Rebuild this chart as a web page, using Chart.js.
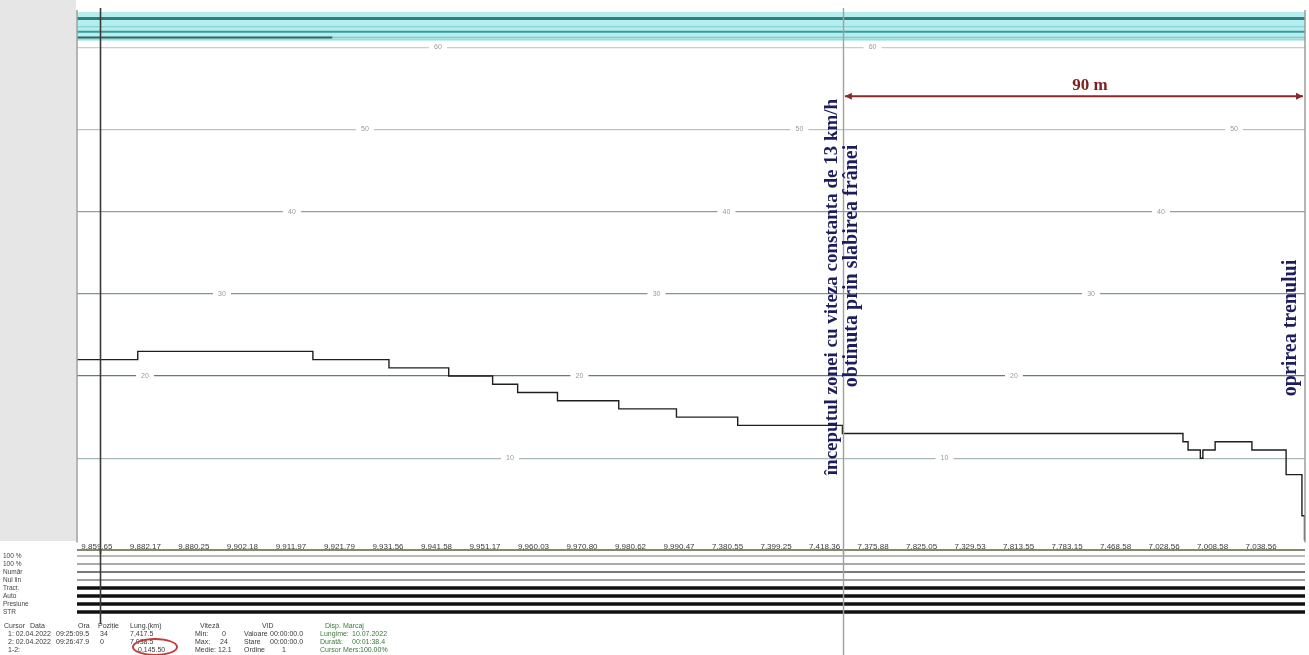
<!DOCTYPE html>
<html lang="ro">
<head>
<meta charset="UTF-8">
<title>Inregistrare viteza</title>
<style>
  body { margin: 0; width: 1309px; height: 655px; overflow: hidden; position: relative; background: #fff;
         font-family: "Liberation Sans", Arial, sans-serif; }
  .greyPanel { position: absolute; left: 0; top: 0; width: 76px; height: 541px; background: #e6e6e6; }
  .mainBox { position: absolute; left: 0; top: 0; width: 1309px; height: 554px; }
  .chanBox { position: absolute; left: 0; top: 549px; width: 1309px; height: 106px; }
  .info span { position: absolute; font-size: 7px; color: #3a3a3a; white-space: nowrap; }
  .circle { position: absolute; left: 132px; top: 638px; width: 42px; height: 14px;
            border: 2px solid #c23a3a; border-radius: 50%; }
</style>
</head>
<body>
<div class="greyPanel"></div>
<div class="mainBox"><canvas id="speedChart"></canvas></div>
<div class="chanBox"><canvas id="chanChart"></canvas></div>
<div class="info" id="info"></div>
<div class="circle"></div>

<script src="https://cdn.jsdelivr.net/npm/chart.js"></script>
<script>
// speed trace: distance (m) where the recorded speed changes and the new speed (km/h)
const stepDist  = [0, 11.9, 46.2, 61.1, 72.8, 81.4, 86.3, 94.1, 106.1, 117.4, 129.4, 149.9,
                   216.6, 217.6, 220.0, 220.5, 222.9, 230.1, 236.8, 239.9, 240.4, 240.5];
const stepSpeed = [22, 23, 22, 21, 20, 19, 18, 17, 16, 15, 14, 13,
                   12, 11, 10, 11, 12, 11, 8, 3, 0, 0];

// x axis tick labels (recorder position readout)
const xLabels = ["9,859.65", "9,882.17", "9,880.25", "9,902.18", "9,911.97", "9,921.79", "9,931.56",
                 "9,941.58", "9,951.17", "9,960.03", "9,970.80", "9,980.62", "9,990.47", "7,380.55",
                 "7,399.25", "7,418.36", "7,375.88", "7,825.05", "7,329.53", "7,813.55", "7,783.15",
                 "7,468.58", "7,028.56", "7,008.58", "7,038.56"];
const tickDist = xLabels.map((_, i) => 3.9 + 9.5 * i);

// speed grid levels, their colours and where the little value labels sit on them
const gridLevels = [10, 20, 30, 40, 50, 60];
const gridColors = ["#a9b8b8", "#5e7d7d", "#7d9898", "#8aa2a2", "#b5c4c4", "#c2d0d0"];
const gridLabelStart = [-0.3, 13.3, 28.4, 42.1, 56.4, 70.7];
const gridLabelPeriod = 85.1;

// cyan channel band at the top
const bandBottom = 60.9;
const bandLines = [63.5, 62.5, 61.9, 61.2];
const bandColors = ["#2f7f80", "#74d0d0", "#3b9a9a", "#2b6666"];
const bandWidths = [3, 1, 2, 2];
const bandEnds = [240.5, 240.5, 240.5, 50];

// cursors and annotations
const cursors = [4.5, 150];
const xMax = 240.5;
const zoneStart = 150, stopPoint = 240.5;

// lower panel channels
const chanNames  = ["100 %", "100 %", "Număr", "Nul lin", "Tracț.", "Auto", "Presiune", "STR"];
const chanLevels = [8, 7, 6, 5, 4, 3, 2, 1];
const chanColors = ["#a3a3a3", "#8e8e8e", "#7a7a7a", "#808080", "#111", "#111", "#111", "#111"];
const chanWidths = [1.5, 1.5, 2, 1.5, 3.5, 3.5, 3.5, 3.5];

Chart.defaults.font.family = '"Liberation Sans", Arial, sans-serif';
Chart.defaults.animation = false;

const flat = (y, x0, x1) => [{ x: x0, y: y }, { x: x1, y: y }];

const datasets = [{
    label: "Viteza",
    data: stepDist.map((d, i) => ({ x: d, y: stepSpeed[i] })),
    stepped: "before",
    borderColor: "#1e1e1e",
    borderWidth: 1.4,
    pointRadius: 0
}];
bandLines.forEach((v, i) => {
    datasets.push({ data: flat(v, 0, bandEnds[i]), borderColor: bandColors[i], borderWidth: bandWidths[i], pointRadius: 0 });
});
datasets.push({ data: flat(bandLines[3], 50, xMax), borderColor: "#86caca", borderWidth: 1.5, pointRadius: 0 });
datasets.push({ data: flat(bandBottom, 0, xMax), borderColor: "#7fd3d3", borderWidth: 1,
                backgroundColor: "#b6eded", fill: "end", pointRadius: 0 });

const speedPlugin = {
    id: "speedDeco",
    beforeDatasetsDraw(chart) {
        const { ctx, chartArea, scales: { x, y } } = chart;
        ctx.save();
        ctx.font = "7px 'Liberation Sans'";
        ctx.textAlign = "center";
        ctx.textBaseline = "middle";
        gridLevels.forEach((lv, i) => {
            const py = y.getPixelForValue(lv);
            for (let d = gridLabelStart[i]; d <= xMax; d += gridLabelPeriod) {
                if (d < 5) continue;
                const px = x.getPixelForValue(d);
                ctx.fillStyle = "#fff";
                ctx.fillRect(px - 9, py - 4, 18, 8);
                ctx.fillStyle = "#9a9a9a";
                ctx.fillText(String(lv), px, py);
            }
        });
        ctx.restore();
    },
    afterDraw(chart) {
        const { ctx, chartArea, scales: { x, y } } = chart;
        ctx.save();
        // plot borders
        ctx.strokeStyle = "#9c9c9c";
        ctx.lineWidth = 1.5;
        [chartArea.left, chartArea.right].forEach(px => {
            ctx.beginPath(); ctx.moveTo(px, chartArea.top - 2); ctx.lineTo(px, chartArea.bottom + 2); ctx.stroke();
        });
        // cursors
        cursors.forEach((c, i) => {
            const px = Math.round(x.getPixelForValue(c)) + 0.5;
            ctx.strokeStyle = i === 0 ? "#3a3a3a" : "#a0a0a0";
            ctx.lineWidth = i === 0 ? 1.6 : 1.4;
            ctx.beginPath(); ctx.moveTo(px, chartArea.top - 4); ctx.lineTo(px, chart.height); ctx.stroke();
        });
        // 90 m arrow
        const ay = y.getPixelForValue(54.05);
        const ax0 = x.getPixelForValue(zoneStart) + 2, ax1 = x.getPixelForValue(stopPoint) - 2;
        ctx.strokeStyle = "#8a2b2b";
        ctx.fillStyle = "#8a2b2b";
        ctx.lineWidth = 2;
        ctx.beginPath(); ctx.moveTo(ax0, ay); ctx.lineTo(ax1, ay); ctx.stroke();
        [[ax0, 1], [ax1, -1]].forEach(([px, dir]) => {
            ctx.beginPath(); ctx.moveTo(px, ay); ctx.lineTo(px + 7 * dir, ay - 3.5); ctx.lineTo(px + 7 * dir, ay + 3.5);
            ctx.closePath(); ctx.fill();
        });
        ctx.font = "bold 17px 'Liberation Serif'";
        ctx.fillStyle = "#7b1f1f";
        ctx.textAlign = "center";
        ctx.textBaseline = "middle";
        ctx.fillText("90 m", (ax0 + ax1) / 2 + 16, ay - 11);
        // vertical annotations
        const vtext = (txt, px, py, size) => {
            ctx.save(); ctx.translate(px, py); ctx.rotate(-Math.PI / 2);
            ctx.font = "bold " + size + "px 'Liberation Serif'";
            ctx.fillStyle = "#1d1d5e";
            ctx.textAlign = "center"; ctx.textBaseline = "middle";
            ctx.fillText(txt, 0, 0);
            ctx.restore();
        };
        const zx = x.getPixelForValue(zoneStart);
        vtext("începutul zonei cu viteza constanta de 13 km/h", zx - 11, 287, 19);
        vtext("obtinuta prin slabirea frânei", zx + 9, 266, 20);
        vtext("oprirea trenului", x.getPixelForValue(stopPoint) - 14, 328, 20);
        ctx.restore();
    }
};

new Chart(document.getElementById("speedChart"), {
    type: "line",
    data: { datasets },
    options: {
        responsive: true,
        maintainAspectRatio: false,
        layout: { padding: { left: 77, right: 4, top: 12, bottom: 0 } },
        plugins: { legend: { display: false }, tooltip: { enabled: false } },
        scales: {
            x: {
                type: "linear", min: 0, max: xMax,
                grid: { display: false, drawTicks: false },
                border: { display: false },
                afterBuildTicks: s => { s.ticks = tickDist.map(v => ({ value: v })); },
                ticks: {
                    autoSkip: false, maxRotation: 0, minRotation: 0, padding: 2,
                    font: { size: 8 }, color: "#3c3c3c",
                    callback: (v, i) => xLabels[i]
                }
            },
            y: {
                min: 0, max: 64.3,
                afterBuildTicks: s => { s.ticks = gridLevels.map(v => ({ value: v })); },
                ticks: { display: false },
                border: { display: false },
                grid: { drawTicks: false, lineWidth: 1.3, color: c => gridColors[c.index] }
            }
        }
    },
    plugins: [speedPlugin]
});

// lower channel panel
const chanPlugin = {
    id: "chanDeco",
    afterDraw(chart) {
        const { ctx, chartArea, scales: { x, y } } = chart;
        ctx.save();
        ctx.strokeStyle = "#56643a";
        ctx.lineWidth = 1.5;
        ctx.beginPath(); ctx.moveTo(chartArea.left, 1); ctx.lineTo(chartArea.right, 1); ctx.stroke();
        ctx.font = "6.5px 'Liberation Sans'";
        ctx.fillStyle = "#444";
        ctx.textBaseline = "middle";
        chanNames.forEach((n, i) => ctx.fillText(n, 3, y.getPixelForValue(chanLevels[i])));
        cursors.forEach((c, i) => {
            const px = Math.round(x.getPixelForValue(c)) + 0.5;
            ctx.strokeStyle = i === 0 ? "#3a3a3a" : "#a0a0a0";
            ctx.lineWidth = i === 0 ? 1.6 : 1.4;
            ctx.beginPath(); ctx.moveTo(px, 0); ctx.lineTo(px, i === 0 ? 75 : chart.height); ctx.stroke();
        });
        ctx.restore();
    }
};

new Chart(document.getElementById("chanChart"), {
    type: "line",
    data: {
        datasets: chanNames.map((n, i) => ({
            label: n,
            data: flat(chanLevels[i], 0, xMax),
            borderColor: chanColors[i],
            borderWidth: chanWidths[i],
            pointRadius: 0
        }))
    },
    options: {
        responsive: true,
        maintainAspectRatio: false,
        layout: { padding: { left: 77, right: 4, top: 3, bottom: 35 } },
        plugins: { legend: { display: false }, tooltip: { enabled: false } },
        scales: {
            x: { type: "linear", min: 0, max: xMax, display: false },
            y: { min: 0, max: 8.5, display: false }
        }
    },
    plugins: [chanPlugin]
});

// cursor readout table under the panel
const infoItems = [
    [4, 622, "Cursor"], [30, 622, "Data"], [78, 622, "Ora"], [98, 622, "Poziție"], [130, 622, "Lung.(km)"],
    [200, 622, "Viteză"], [262, 622, "VID"], [325, 622, "Disp. Marcaj", "#3d7a3d"],
    [8, 630, "1: 02.04.2022"], [56, 630, "09:25:09.5"], [100, 630, "34"], [130, 630, "7,417.5"],
    [195, 630, "Min:"], [222, 630, "0"], [244, 630, "Valoare"], [270, 630, "00:00:00.0"],
    [320, 630, "Lungime:", "#3d7a3d"], [352, 630, "10.07.2022", "#3d7a3d"],
    [8, 638, "2: 02.04.2022"], [56, 638, "09:26:47.9"], [100, 638, "0"], [130, 638, "7,038.5"],
    [195, 638, "Max:"], [220, 638, "24"], [244, 638, "Stare"], [270, 638, "00:00:00.0"],
    [320, 638, "Durată:", "#3d7a3d"], [352, 638, "00:01:38.4", "#3d7a3d"],
    [8, 646, "1-2:"], [138, 646, "0,145.50"], [195, 646, "Medie:"], [218, 646, "12.1"],
    [244, 646, "Ordine"], [282, 646, "1"], [320, 646, "Cursor Mers:", "#3d7a3d"], [360, 646, "100.00%", "#2f6f2f"]
];
const info = document.getElementById("info");
infoItems.forEach(([l, t, txt, col]) => {
    const s = document.createElement("span");
    s.style.left = l + "px";
    s.style.top = t + "px";
    if (col) s.style.color = col;
    s.textContent = txt;
    info.appendChild(s);
});
</script>
</body>
</html>
